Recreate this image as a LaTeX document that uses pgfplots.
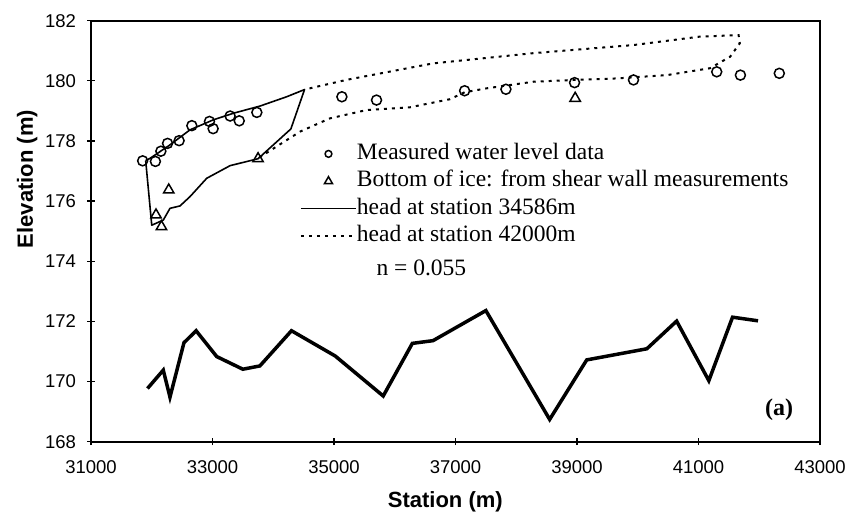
\documentclass[border=0pt]{standalone}
\usepackage{fontspec}
\setmainfont{Liberation Serif}
\setsansfont{Liberation Sans}
\usepackage{pgfplots}
\pgfplotsset{compat=1.18}

% water level profiles, ice-bottom observations and bed elevation
\pgfplotstableread{
x y
31850 177.34
32060 177.32
32150 177.66
32260 177.92
32450 178.01
32660 178.51
32950 178.65
33010 178.41
33290 178.83
33440 178.67
33730 178.95
35130 179.47
35700 179.36
37150 179.67
37830 179.72
38960 179.94
39930 180.03
41300 180.30
41690 180.19
42330 180.25
}\measured

\pgfplotstableread{
x y
32070 175.54
32160 175.15
32280 176.37
33750 177.41
38970 179.42
}\icebottom

\pgfplotstableread{
x y
31900 177.35
32000 175.20
32190 175.37
32300 175.76
32465 175.84
32630 176.15
32905 176.76
33290 177.18
33750 177.41
34290 178.40
34515 179.71
34220 179.47
33780 179.16
33340 178.92
33010 178.70
32630 178.37
32300 177.87
31970 177.42
31900 177.35
}\headA

\pgfplotstableread{
x y
33770 177.45
34440 178.31
34930 178.75
35540 179.03
36250 179.12
36910 179.39
37150 179.62
37510 179.75
38280 179.97
38960 180.03
39650 180.08
40480 180.19
41190 180.42
41520 180.80
41680 181.25
41660 181.52
41020 181.47
39930 181.19
38280 180.92
36630 180.58
35200 180.03
34515 179.71
}\headB

\pgfplotstableread{
x y
31930 169.77
32190 170.38
32300 169.48
32530 171.29
32730 171.69
33070 170.83
33500 170.41
33780 170.52
34300 171.69
35020 170.85
35810 169.52
36290 171.27
36630 171.36
37500 172.36
38550 168.74
39160 170.72
40150 171.09
40640 172.01
41170 170.03
41560 172.14
41980 172.02
}\bed

\begin{document}
\begin{tikzpicture}[x=1pt,y=1pt]
\path[use as bounding box] (0,0) rectangle (849,519);
\begin{axis}[
  at={(91pt,77.3pt)}, anchor=south west,
  scale only axis, width=729pt, height=421pt,
  xmin=31000, xmax=43000, ymin=168, ymax=182,
  xtick={31000,33000,...,43000}, ytick={168,170,...,182},
  xtick pos=bottom, ytick pos=left,
  tick align=center, major tick length=7pt,
  axis line style={line width=1.7pt},
  tick style={line width=1.3pt, black},
  scaled x ticks=false,
  /pgf/number format/1000 sep={},
  /pgf/number format/assume math mode=true,
  ticklabel style={font=\fontsize{18.5}{20}\sffamily},
  xticklabel style={yshift=-12pt},
  yticklabel style={xshift=-8pt},
  xlabel={Station (m)}, ylabel={Elevation (m)},
  label style={font=\fontsize{22}{24}\sffamily\bfseries},
  xlabel style={at={(axis description cs:0.486,0)}, anchor=north, yshift=-46pt},
  ylabel style={at={(axis description cs:0,0.624)}, anchor=south, yshift=50pt},
  legend style={at={(axis cs:34440,177.92)}, anchor=north west,
    draw=none, fill=none, inner sep=0pt, outer sep=0pt,
    row sep=6.4pt, column sep=0pt,
    font=\fontsize{23.5}{25}\selectfont,
    nodes={inner sep=0pt, text height=16pt, text depth=5pt}},
  legend cell align=left,
  legend image code/.code={\draw[mark repeat=2,mark phase=2,#1]
    plot coordinates {(0pt,0pt) (27.5pt,0pt) (55pt,0pt)};},
]
\addplot[only marks, mark=o, mark size=5pt, mark options={line width=1.5pt},
  legend image post style={mark size=3.4pt}]
  table {\measured};
\addlegendentry{Measured water level data}
\addplot[only marks, mark=triangle, mark size=6pt, mark options={line width=1.5pt},
  legend image post style={mark size=4.6pt}]
  table {\icebottom};
\addlegendentry{Bottom of ice: from shear wall measurements}
\addplot[line width=1.6pt, line join=round] table {\headA};
\addlegendentry{head at station 34586m}
\addplot[line width=2pt, dash pattern=on 3pt off 5pt] table {\headB};
\addlegendentry{head at station 42000m}
\addplot[line width=3.5pt, line join=miter, forget plot] table {\bed};
\node[anchor=west, font=\fontsize{23.5}{25}\selectfont] at (axis cs:35642,173.78) {n = 0.055};
\node[font=\fontsize{24}{26}\selectfont\bfseries] at (axis cs:42325,169.05) {(a)};
\end{axis}
\end{tikzpicture}
\end{document}
